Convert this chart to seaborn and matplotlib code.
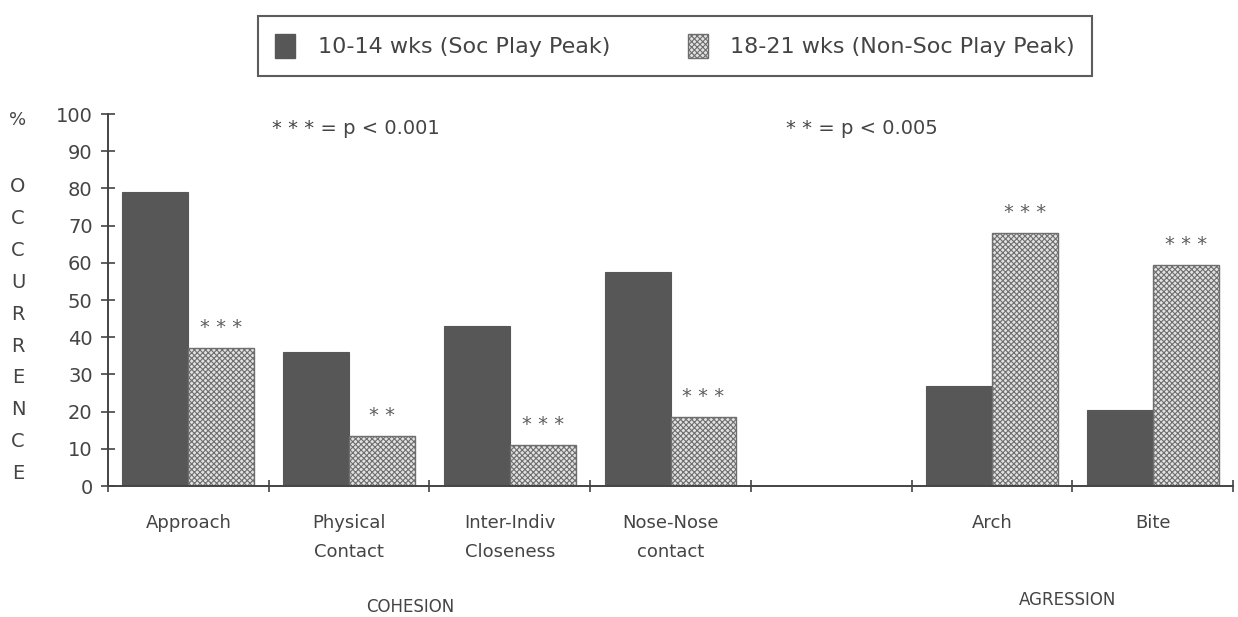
import matplotlib
matplotlib.use("Agg")
import matplotlib.pyplot as plt
import seaborn as sns
import pandas as pd
from matplotlib.patches import Patch

# ---- data ----
categories = ["Approach", "Physical\nContact", "Inter-Indiv\nCloseness",
              "Nose-Nose\ncontact", " ", "Arch", "Bite"]
soc_peak = [79, 36, 43, 57.5, None, 27, 20.5]
nonsoc_peak = [37, 13.5, 11, 18.5, None, 68, 59.5]
significance = ["* * *", "* *", "* * *", "* * *", "", "* * *", "* * *"]
series = ["10-14 wks (Soc Play Peak)", "18-21 wks (Non-Soc Play Peak)"]
y_ticks = list(range(0, 101, 10))
group_labels = ["COHESION", "AGRESSION"]
group_pos = [1.38, 5.47]
notes = ["* * * = p < 0.001", "* * = p < 0.005"]
note_pos = [0.52, 3.72]
ylabel_letters = "OCCURRENCE"

rows = []
for c, a, b in zip(categories, soc_peak, nonsoc_peak):
    if a is None:
        continue
    rows.append({"cat": c, "grp": series[0], "val": a})
    rows.append({"cat": c, "grp": series[1], "val": b})
df = pd.DataFrame(rows)

TXT = "#444444"
DARK = "#575757"
HFACE = "#e2e2e2"
HEDGE = "#6e6e6e"
plt.rcParams["font.family"] = ["DejaVu Sans"]
plt.rcParams["hatch.linewidth"] = 0.8

fig = plt.figure(figsize=(12.38, 6.17), dpi=100)
ax = fig.add_axes([0.0872, 0.2123, 0.9088, 0.6029])

sns.barplot(data=df, x="cat", y="val", hue="grp", order=categories,
            hue_order=series, palette={series[0]: DARK, series[1]: "white"},
            width=0.82, dodge=True, ax=ax, legend=False, saturation=1)

for bar in ax.containers[0]:
    bar.set_edgecolor(DARK)
    bar.set_linewidth(0.8)
for bar in ax.containers[1]:
    bar.set_facecolor(HFACE)
    bar.set_edgecolor(HEDGE)
    bar.set_hatch("xxxxxx")
    bar.set_linewidth(1.0)

# significance stars above hatched bars
sig_iter = [s for c, s in zip(categories, significance) if c.strip()]
for bar, s in zip(ax.containers[1], sig_iter):
    ax.text(bar.get_x() + bar.get_width() / 2, bar.get_height() + 5.5, s,
            ha="center", va="center", fontsize=14, color="#5e5e5e")

ax.set_xlim(-0.5, len(categories) - 0.5)
ax.set_ylim(0, 100)
ax.set_yticks(y_ticks)
ax.set_yticklabels([str(v) for v in y_ticks], fontsize=14, color=TXT)
ax.set_xticks(range(len(categories)))
ax.set_xticklabels(categories, fontsize=13, color=TXT, linespacing=1.8)
ax.set_xticks([i - 0.5 for i in range(len(categories) + 1)], minor=True)
ax.tick_params(axis="x", which="major", length=0, pad=20)
ax.tick_params(axis="x", which="minor", length=9, direction="inout",
               width=1.2, color=TXT)
ax.tick_params(axis="y", length=10, direction="inout", width=1.2,
               color=TXT, pad=6)
ax.set_xlabel("")
ax.set_ylabel("")
for side in ["top", "right"]:
    ax.spines[side].set_visible(False)
for side in ["left", "bottom"]:
    ax.spines[side].set_color(TXT)
    ax.spines[side].set_linewidth(1.4)

# notes
for t, x in zip(notes, note_pos):
    ax.text(x, 96, t, ha="left", va="center", fontsize=14, color=TXT)

# group labels
ax.text(group_pos[0], -0.325, group_labels[0], transform=ax.get_xaxis_transform(),
        ha="center", va="center", fontsize=12, color=TXT)
ax.text(group_pos[1], -0.306, group_labels[1], transform=ax.get_xaxis_transform(),
        ha="center", va="center", fontsize=12, color=TXT)

# y label: % and vertical letters
fig.text(18 / 1238, 1 - 120 / 617, "%", ha="center", va="center",
         fontsize=13, color=TXT)
for i, ch in enumerate(ylabel_letters):
    fig.text(18 / 1238, 1 - (187 + i * 31.8) / 617, ch, ha="center",
             va="center", fontsize=14, color=TXT)

# legend
handles = [Patch(facecolor=DARK, edgecolor=DARK),
           Patch(facecolor=HFACE, edgecolor=HEDGE, hatch="xxxxxx")]
leg = fig.legend(handles, series, loc="center", ncol=2,
                 bbox_to_anchor=(675 / 1238, 1 - 46 / 617), frameon=True,
                 fancybox=False, fontsize=16, handlelength=0.9,
                 handleheight=1.3, columnspacing=3.5, handletextpad=1.0,
                 borderpad=0.8, borderaxespad=0)
for txt in leg.get_texts():
    txt.set_color(TXT)
leg.get_frame().set_edgecolor("#333333")
leg.get_frame().set_linewidth(1.5)

fig.savefig("out.png", dpi=100)
